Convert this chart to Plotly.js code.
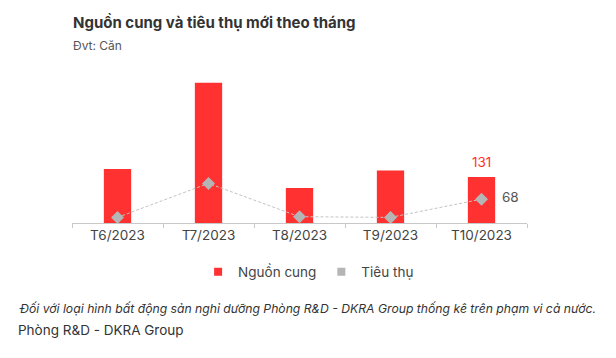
<!DOCTYPE html>
<html><head><meta charset="utf-8">
<script src="https://cdn.plot.ly/plotly-3.0.1.min.js"></script>
<style>html,body{margin:0;padding:0;background:#fff}#c{width:616px;height:358px}</style>
</head><body><div id="c"></div>
<script>
const months = ['T6/2023','T7/2023','T8/2023','T9/2023','T10/2023'];
const supply = [154, 400, 100, 150, 131];
const sales = [16, 113, 18, 16, 68];
const seriesNames = ['Nguồn cung', 'Tiêu thụ'];
const titleText = 'Nguồn cung và tiêu thụ mới theo tháng';
const unitText = 'Đvt: Căn';
const noteText = 'Đối với loại hình bất động sản nghỉ dưỡng Phòng R&D - DKRA Group thống kê trên phạm vi cả nước.';
const sourceText = 'Phòng R&D - DKRA Group';

const last = months.length - 1;
const font = 'Inter, "Noto Sans", sans-serif';
const red = '#ff3131', gray = '#b5b5b5';

const traces = [
  {type:'bar', x:months, y:supply, name:seriesNames[0], marker:{color:red}, width:0.3,
   showlegend:false, hoverinfo:'none'},
  {type:'scatter', mode:'lines+markers', x:months, y:sales, name:seriesNames[1], showlegend:false,
   line:{color:'#c4c4c4', width:1, dash:'3px,2px'},
   marker:{symbol:'diamond', size:10, color:gray}, cliponaxis:false, hoverinfo:'none'},
  {type:'scatter', mode:'markers', x:[null], y:[null], name:seriesNames[0],
   marker:{symbol:'square', size:8, color:red}, hoverinfo:'none'},
  {type:'scatter', mode:'markers', x:[null], y:[null], name:seriesNames[1],
   marker:{symbol:'square', size:8, color:gray}, hoverinfo:'none'}
];

const layout = {
  width:616, height:358, paper_bgcolor:'#fff', plot_bgcolor:'#fff',
  margin:{l:72, r:89, t:60, b:135},
  font:{family:font, color:'#444', size:13},
  showlegend:true,
  legend:{orientation:'h', x:0.52, xanchor:'center', y:-0.30, yanchor:'middle',
          font:{size:13.5, color:'#444'}, itemwidth:30, traceorder:'normal'},
  xaxis:{type:'category', range:[-0.5,4.5], showline:true, linecolor:'#c8c8c8', linewidth:1,
         ticks:'outside', ticklen:4, tickcolor:'#c8c8c8', tickson:'boundaries',
         tickfont:{size:13.5, color:'#444'}, showgrid:false, fixedrange:true},
  yaxis:{range:[0,465], visible:false, showgrid:false, zeroline:false, fixedrange:true},
  annotations:[
    {text:'<b>'+titleText+'</b>', xref:'paper', yref:'paper', x:-0.003, xanchor:'left', y:1.0, yanchor:'bottom',
     showarrow:false, font:{size:15, color:'#333'}, yshift:26},
    {text:unitText, xref:'paper', yref:'paper', x:-0.003, xanchor:'left', y:1, yanchor:'bottom',
     showarrow:false, font:{size:12, color:'#555'}, yshift:5},
    {text:String(supply[last]), xref:'x', yref:'y', x:months[last], y:supply[last], yanchor:'bottom',
     showarrow:false, font:{size:13.5, color:red}, yshift:5},
    {text:String(sales[last]), xref:'x', yref:'y', x:months[last], y:sales[last], xanchor:'left',
     showarrow:false, font:{size:13.5, color:'#555'}, xshift:18, yshift:2},
    {text:'<i>'+noteText+'</i>', xref:'paper', yref:'paper', x:-0.12, xanchor:'left', y:0, yanchor:'middle',
     showarrow:false, font:{size:12.2, color:'#333'}, yshift:-85},
    {text:sourceText, xref:'paper', yref:'paper', x:-0.123, xanchor:'left', y:0, yanchor:'middle',
     showarrow:false, font:{size:13.5, color:'#333'}, yshift:-107}
  ]
};
Plotly.newPlot('c', traces, layout, {displayModeBar:false, staticPlot:true});
</script></body></html>
